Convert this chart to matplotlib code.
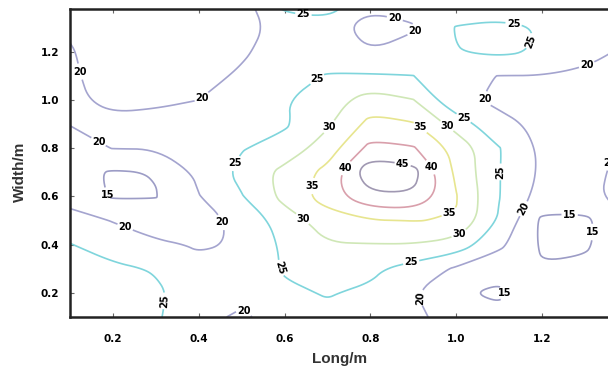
import numpy as np
import matplotlib
matplotlib.use("Agg")
import matplotlib.pyplot as plt
from matplotlib.path import Path

# grid of measurement positions (m)
long_m = [0.1, 0.2, 0.3, 0.4, 0.5, 0.6, 0.7, 0.8, 0.9, 1.0, 1.1, 1.2, 1.3, 1.4]
width_m = [0.1, 0.2, 0.3, 0.4, 0.5, 0.6, 0.7, 0.8, 0.9, 1.0, 1.1, 1.2, 1.3, 1.4]

# values, one row per width (bottom to top)
row_010 = [29.0, 28.0, 25.6, 21.5, 19.2, 22.5, 24.0, 23.5, 20.8, 18.5, 16.2, 18.5, 19.0, 19.0]
row_020 = [28.5, 27.5, 25.8, 22.5, 21.5, 24.2, 25.3, 24.2, 20.3, 15.6, 14.2, 18.5, 18.5, 19.0]
row_030 = [27.0, 26.0, 24.6, 21.0, 21.0, 25.5, 27.5, 26.0, 23.0, 19.3, 16.5, 15.3, 16.0, 18.5]
row_040 = [25.2, 22.5, 20.8, 19.6, 20.3, 26.0, 29.7, 29.8, 29.8, 28.0, 21.2, 14.3, 14.3, 18.5]
row_050 = [22.0, 19.8, 17.5, 18.5, 21.0, 27.5, 32.5, 34.7, 35.1, 34.8, 24.5, 14.0, 14.0, 19.0]
row_060 = [18.0, 14.5, 14.8, 19.8, 24.7, 31.5, 37.5, 44.0, 44.5, 35.3, 25.2, 18.0, 18.0, 23.0]
row_070 = [16.5, 14.5, 15.2, 21.0, 26.5, 31.5, 36.5, 49.0, 47.0, 34.0, 25.2, 19.2, 19.4, 20.6]
row_080 = [18.5, 20.1, 20.2, 21.5, 24.7, 27.0, 32.5, 41.5, 40.5, 33.5, 25.3, 19.0, 19.2, 20.3]
row_090 = [20.1, 21.0, 21.5, 22.2, 23.5, 24.3, 29.3, 36.5, 35.5, 28.0, 21.0, 19.2, 18.5, 18.3]
row_100 = [20.8, 19.0, 19.2, 20.0, 22.0, 24.7, 27.5, 32.5, 30.2, 21.0, 19.3, 18.8, 18.5, 18.3]
row_110 = [20.6, 18.2, 17.8, 18.6, 20.6, 23.8, 25.2, 25.5, 25.1, 21.0, 19.9, 19.9, 19.4, 18.5]
row_120 = [20.3, 18.0, 17.3, 17.8, 19.4, 22.0, 23.5, 20.2, 21.5, 24.8, 26.0, 24.5, 21.0, 19.5]
row_130 = [19.5, 17.5, 17.0, 17.0, 18.5, 21.5, 22.5, 17.5, 19.6, 25.3, 26.0, 24.8, 22.0, 20.5]
row_140 = [19.0, 18.0, 17.5, 17.0, 17.5, 27.0, 28.0, 21.5, 21.5, 22.0, 22.5, 22.5, 22.0, 21.0]

levels = [15, 20, 25, 30, 35, 40, 45]
level_colors = ["#9c9cc6", "#a4a4cf", "#7fd5dc", "#cfe7b6", "#e7e58f", "#d99fab", "#a098b2"]

# where the labels sit on the original map
label_pos = [
    (0.121, 1.117), (0.412, 1.0), (0.16, 0.806), (0.19, 0.607), (0.226, 0.461),
    (0.474, 0.511), (0.342, 0.163), (0.505, 0.121), (0.574, 0.295), (0.465, 0.76),
    (0.674, 1.092), (0.644, 1.354), (0.858, 1.345), (0.907, 1.283), (1.133, 1.304),
    (1.184, 1.237), (1.307, 1.134), (1.033, 0.988), (1.019, 0.93), (0.977, 0.889),
    (0.916, 0.885), (0.719, 0.868), (1.105, 0.702), (0.742, 0.719), (0.872, 0.698),
    (0.93, 0.71), (0.64, 0.648), (1.149, 0.557), (1.265, 0.557), (1.314, 0.453),
    (0.993, 0.499), (1.012, 0.428), (0.64, 0.503), (0.893, 0.345), (0.907, 0.179),
    (1.109, 0.2), (1.342, 0.752),
]
# labels that follow the line direction instead of staying upright
turned_labels = [6, 8, 15, 22, 27, 34]


def chaikin(v, n=3):
    # corner cutting so the contour lines look drawn rather than gridded
    closed = len(v) > 2 and np.allclose(v[0], v[-1])
    for _ in range(n):
        if closed:
            p = v[:-1]
            nxt = np.roll(p, -1, axis=0)
            out = np.empty((2 * len(p), 2))
            out[0::2] = 0.75 * p + 0.25 * nxt
            out[1::2] = 0.25 * p + 0.75 * nxt
            v = np.vstack([out, out[:1]])
        else:
            out = np.empty((2 * (len(v) - 1), 2))
            out[0::2] = 0.75 * v[:-1] + 0.25 * v[1:]
            out[1::2] = 0.25 * v[:-1] + 0.75 * v[1:]
            v = np.vstack([v[:1], out, v[-1:]])
    return v


Z = np.array([row_010, row_020, row_030, row_040, row_050, row_060, row_070,
              row_080, row_090, row_100, row_110, row_120, row_130, row_140])
X, Y = np.meshgrid(long_m, width_m)

fig = plt.figure(figsize=(6.08, 3.74), dpi=100)
# axes run past the right edge of the picture, like the cropped original
ax = fig.add_axes([70 / 608, 57 / 374, 1.3 * 429 / 608, 308.5 / 374])

cs = ax.contour(X, Y, Z, levels=levels, colors=level_colors, linewidths=1.2)

smooth_paths = []
for p in cs.get_paths():
    polys = p.to_polygons(closed_only=False)
    if len(polys) == 0:
        smooth_paths.append(p)
        continue
    smooth_paths.append(Path.make_compound_path(*[Path(chaikin(np.asarray(v))) for v in polys]))
cs.set_paths(smooth_paths)

labels = ax.clabel(cs, manual=label_pos, inline=True, inline_spacing=2,
                   fmt="%d", fontsize=7, colors="black")
for i, t in enumerate(labels):
    t.set_fontweight("bold")
    if i not in turned_labels:
        t.set_rotation(0)

ax.set_xlim(0.1, 1.4)
ax.set_ylim(0.1, 1.38)
ax.set_xticks([0.2, 0.4, 0.6, 0.8, 1.0, 1.2])
ax.set_yticks([0.2, 0.4, 0.6, 0.8, 1.0, 1.2])
ax.set_xticklabels(["0.2", "0.4", "0.6", "0.8", "1.0", "1.2"])
ax.set_yticklabels(["0.2", "0.4", "0.6", "0.8", "1.0", "1.2"])
ax.tick_params(direction="in", top=True, right=False, length=3, width=0.8,
               labelsize=7.5, color="#666666")
ax.tick_params(axis="x", pad=12)
ax.tick_params(axis="y", pad=8)
for lab in ax.get_xticklabels() + ax.get_yticklabels():
    lab.set_fontweight("bold")

for side in ["left", "top", "bottom"]:
    ax.spines[side].set_linewidth(1.8)
    ax.spines[side].set_color("#222222")
ax.spines["right"].set_visible(False)

ax.set_xlabel("Long/m", fontsize=11, fontweight="bold", family="Liberation Sans",
              color="#333333")
ax.set_ylabel("Width/m", fontsize=11, fontweight="bold", family="Liberation Sans",
              color="#333333")
ax.xaxis.set_label_coords(0.484, -0.112)
ax.yaxis.set_label_coords(-0.077, 0.47)

fig.savefig("out.png", dpi=100)
